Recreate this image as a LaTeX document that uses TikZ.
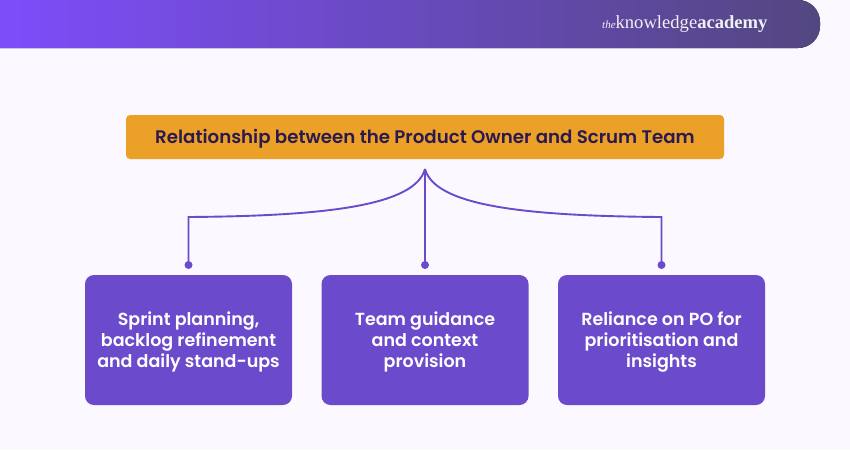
\documentclass[tikz,border=0pt]{standalone}
\usepackage{fontspec}
\setmainfont{Poppins SemiBold}
\newfontfamily\logofont{Liberation Serif}
\definecolor{bgc}{HTML}{FBF9FF}
\definecolor{orangec}{HTML}{EBA128}
\definecolor{purplec}{HTML}{6B4BCB}
\definecolor{inkc}{HTML}{2C1A4E}
\definecolor{barl}{HTML}{7F4DFF}
\definecolor{barr}{HTML}{534780}
\tikzset{
  titlebox/.style={fill=orangec,rounded corners=4pt,minimum width=598pt,minimum height=44pt,inner sep=0pt},
  titletext/.style={text=inkc,inner sep=0pt,yshift=-2pt,font=\fontsize{18.2}{21}\selectfont},
  cardbox/.style={fill=purplec,rounded corners=9pt,minimum width=207pt,minimum height=130pt,inner sep=0pt},
  cardtext/.style={text=white,align=center,inner sep=0pt,yshift=-2pt,font=\fontsize{17.5}{21}\selectfont},
  wire/.style={draw=purplec,line width=1.9pt},
  dotnode/.style={circle,fill=purplec,minimum size=8pt,inner sep=0pt}
}
\begin{document}
\begin{tikzpicture}[x=1pt,y=-1pt]
\useasboundingbox (0,0) rectangle (850,450);
\fill[bgc] (0,0) rectangle (850,450);
\fill[left color=barl,right color=barr,rounded corners=22pt] (-30,0) rectangle (820,48);
\fill[barl] (-30,0) rectangle (0,48);
\node[text=white!92!barr,anchor=west,inner sep=0pt,font=\logofont] (logo) at (602,24) {{\itshape\fontsize{11}{11}\selectfont the}{\fontsize{18.6}{19}\selectfont knowledge\textbf{academy}}};
\node[titlebox,label={[titletext]center:Relationship between the Product Owner and Scrum Team}] (title) at (425,137) {};
\node[cardbox,label={[cardtext]center:{Sprint planning,\\backlog refinement\\and daily stand-ups}}] (a) at (188.5,340) {};
\node[cardbox,label={[cardtext]center:{Team guidance\\and context\\provision}}] (b) at (425,340) {};
\node[cardbox,label={[cardtext]center:{Reliance on PO for\\prioritisation and\\insights}}] (c) at (661.5,340) {};
\node[dotnode] (da) at (188.5,265) {};
\node[dotnode] (db) at (425,265) {};
\node[dotnode] (dc) at (661.5,265) {};
\coordinate (top) at (425,169);
\coordinate (ca) at (188.5,217);
\coordinate (cc) at (661.5,217);
\draw[wire] (db.center) -- (top);
\draw[wire] (da.center) -- (ca) .. controls (330,216) and (415,205) .. (top);
\draw[wire] (dc.center) -- (cc) .. controls (520,216) and (435,205) .. (top);
\end{tikzpicture}
\end{document}
